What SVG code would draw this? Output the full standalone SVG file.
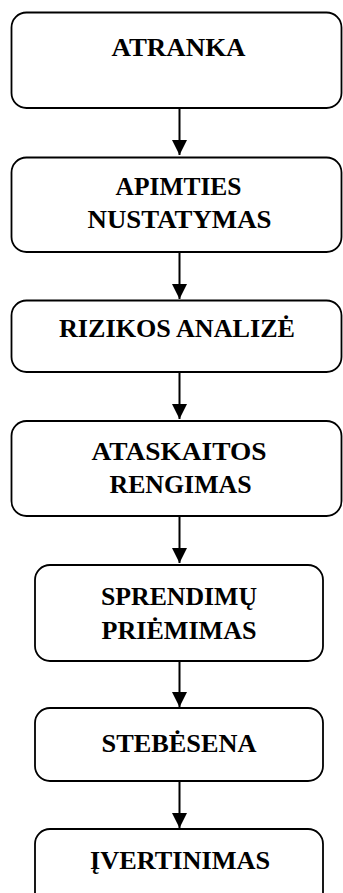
<svg xmlns="http://www.w3.org/2000/svg" width="343" height="893" viewBox="0 0 343 893">
<style>
.box{fill:#fff;stroke:#000;stroke-width:1.8}
.lbl{font-family:"Liberation Serif","Times New Roman",serif;font-weight:bold;font-size:26px;fill:#000;text-anchor:middle}
.conn{stroke:#000;stroke-width:2;fill:none;marker-end:url(#ah)}
</style>
<defs>
<marker id="ah" markerUnits="userSpaceOnUse" markerWidth="16" markerHeight="16" refX="15" refY="7.5" orient="auto">
<path d="M0,0 L15,7.5 L0,15 Z" fill="#000"/>
</marker>
</defs>
<g id="connectors">
<line class="conn" x1="179.5" y1="108" x2="179.5" y2="155"/>
<line class="conn" x1="179.5" y1="252" x2="179.5" y2="299"/>
<line class="conn" x1="179.5" y1="372" x2="179.5" y2="419"/>
<line class="conn" x1="179.5" y1="516" x2="179.5" y2="563"/>
<line class="conn" x1="179.5" y1="661" x2="179.5" y2="707"/>
<line class="conn" x1="179.5" y1="781" x2="179.5" y2="828"/>
</g>
<g id="n1">
<rect class="box" x="11.5" y="12.5" width="330" height="95.5" rx="15"/>
<text class="lbl" x="178.5" y="56" textLength="134" lengthAdjust="spacingAndGlyphs">ATRANKA</text>
</g>
<g id="n2">
<rect class="box" x="11.5" y="157.5" width="330" height="94.5" rx="15"/>
<text class="lbl" x="178.5" y="195" textLength="126" lengthAdjust="spacingAndGlyphs">APIMTIES</text>
<text class="lbl" x="179.5" y="228" textLength="184" lengthAdjust="spacingAndGlyphs">NUSTATYMAS</text>
</g>
<g id="n3">
<rect class="box" x="11.5" y="300.5" width="330" height="71.5" rx="15"/>
<text class="lbl" x="177" y="337" textLength="236" lengthAdjust="spacingAndGlyphs">RIZIKOS ANALIZĖ</text>
</g>
<g id="n4">
<rect class="box" x="11.5" y="421" width="330" height="95" rx="15"/>
<text class="lbl" x="179" y="460" textLength="175" lengthAdjust="spacingAndGlyphs">ATASKAITOS</text>
<text class="lbl" x="180.5" y="493" textLength="142" lengthAdjust="spacingAndGlyphs">RENGIMAS</text>
</g>
<g id="n5">
<rect class="box" x="35" y="565" width="288" height="96" rx="15"/>
<text class="lbl" x="179" y="605" textLength="156" lengthAdjust="spacingAndGlyphs">SPRENDIMŲ</text>
<text class="lbl" x="179" y="639" textLength="155" lengthAdjust="spacingAndGlyphs">PRIĖMIMAS</text>
</g>
<g id="n6">
<rect class="box" x="35" y="708" width="288" height="73" rx="15"/>
<text class="lbl" x="179" y="752" textLength="155" lengthAdjust="spacingAndGlyphs">STEBĖSENA</text>
</g>
<g id="n7">
<rect class="box" x="35" y="829" width="288" height="90" rx="15"/>
<text class="lbl" x="180" y="869" textLength="180" lengthAdjust="spacingAndGlyphs">ĮVERTINIMAS</text>
</g>
</svg>
